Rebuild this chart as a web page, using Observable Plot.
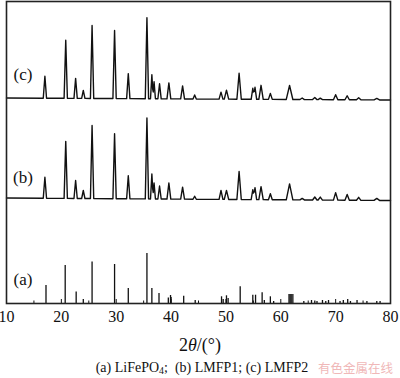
<!DOCTYPE html>
<html><head><meta charset="utf-8">
<script src="https://cdn.jsdelivr.net/npm/d3@7"></script>
<script src="https://cdn.jsdelivr.net/npm/@observablehq/plot@0.6"></script>
<style>
body{margin:0;background:#fff;width:400px;height:378px;position:relative;overflow:hidden;font-family:"Liberation Serif","Times New Roman",serif;color:#111;}
#chart{position:absolute;left:0;top:0;}
#xlabel{position:absolute;left:0;width:400px;top:335px;height:20px;line-height:20px;text-align:center;font-size:18px;}
#caption{position:absolute;left:0;width:404px;top:359px;height:18px;line-height:18px;text-align:center;font-size:14px;white-space:nowrap;}
#caption sub{font-size:0.7em;line-height:0;vertical-align:-0.25em;}
#wm{position:absolute;left:318px;top:359px;height:18px;line-height:18px;font-size:12.5px;color:#f0b8b8;font-family:"Noto Sans CJK SC",sans-serif;}
</style></head><body>
<div id="chart"></div>
<div id="xlabel">2<i>θ</i>/(°)</div>
<div id="caption">(a) LiFePO<sub>4</sub>;&nbsp;&nbsp;(b) LMFP1; (c) LMFP2</div>
<div id="wm">有色金属在线</div>
<script>
// x-axis tick labels and minor tick positions (2θ, degrees)
const xTicks = [10, 20, 30, 40, 50, 60, 70, 80];
const minorTicks = [15, 20, 25, 30, 35, 40, 45, 50, 55, 60, 65, 70, 75];

// Measured patterns (b) LMFP1 and (c) LMFP2: peak positions, peak widths, intensities (a.u.)
const peakPos   = [17.0, 20.8, 22.6, 24.0, 25.6, 29.7, 32.2, 35.6, 36.5, 36.9, 37.9, 39.6, 42.1, 44.3, 49.1, 50.1, 52.4, 54.9, 55.3, 56.4, 58.1, 61.6, 63.9, 66.2, 67.2, 70.0, 72.1, 74.2, 77.5];
const peakWidth = [0.3, 0.3, 0.3, 0.3, 0.3, 0.3, 0.3, 0.3, 0.25, 0.25, 0.3, 0.35, 0.35, 0.3, 0.35, 0.4, 0.4, 0.3, 0.3, 0.4, 0.35, 0.6, 0.4, 0.4, 0.4, 0.4, 0.4, 0.4, 0.5];
const intensityC = [22, 58, 20, 8, 73, 68, 25, 81, 24, 17, 15, 16, 13, 4, 7, 9, 26, 11, 12, 14, 6, 14, 1.5, 2, 1.5, 5, 4, 2, 1.5];
const intensityB = [21, 57, 18, 8, 73, 65, 23, 81, 25, 16, 13, 16, 12, 3, 9, 9, 28, 10, 12, 13, 6, 16, 1.5, 3, 3, 7.5, 5.7, 3, 2];
// stacking offsets (baseline at 10° and 80°)
const baselineB = [105.5, 103];
const baselineC = [205.5, 203.5];

// (a) LiFePO4 standard pattern: line positions and relative intensities
const stdPos = [17.2, 20.7, 22.7, 24.0, 25.6, 29.7, 32.2, 35.6, 36.5, 37.8, 39.5, 39.9, 40.0, 42.3, 44.4, 49.2, 49.5, 50.1, 50.4, 52.6, 54.9, 55.4, 56.6, 57.0, 58.1, 58.7, 61.5, 61.7, 61.9, 62.2, 64.2, 65.6, 66.2, 66.6, 67.6, 68.2, 68.7, 70.8, 71.4, 72.2, 72.7, 73.9, 75.7, 77.5, 78.1];
const stdInt = [18, 38, 11.6, 4, 41.6, 39, 15, 50, 15, 10, 5.6, 8, 6, 7.3, 3, 6.7, 4, 7.7, 5, 16.7, 8.3, 8.3, 10.7, 3, 6.7, 2, 9, 9, 9, 9, 2, 3, 2.5, 2, 3, 2, 3, 2, 3, 4, 2, 3, 2, 2, 2];

// pattern labels
const sampleLabels = ["(a)", "(b)", "(c)"];
const labelPos = [13, 13, 13];
const labelLevel = [24, 126, 229];

function profile(heights, base) {
  const xs = new Set([10, 80]);
  peakPos.forEach((p, i) => { xs.add(p - peakWidth[i]); xs.add(p); xs.add(p + peakWidth[i]); });
  const sorted = [...xs].filter(x => x >= 10 && x <= 80).sort((a, b) => a - b);
  return sorted.map(x => {
    let y = base[0] + (base[1] - base[0]) * (x - 10) / 70;
    peakPos.forEach((p, i) => {
      const d = Math.abs(x - p);
      if (d < peakWidth[i]) y += heights[i] * (1 - d / peakWidth[i]);
    });
    return {x, y};
  });
}

const stdData = stdPos.map((x, i) => ({x, h: stdInt[i]}));
const labelData = sampleLabels.map((t, i) => ({t, x: labelPos[i], y: labelLevel[i]}));

const chart = Plot.plot({
  width: 400, height: 330,
  marginLeft: 6, marginRight: 10, marginTop: 1, marginBottom: 27,
  x: {domain: [10, 80], ticks: xTicks, tickSize: 0, tickPadding: 7, label: null},
  y: {domain: [0, 302], axis: null},
  style: {fontFamily: "'Liberation Serif', 'Times New Roman', serif", fontSize: "16px", color: "#111", background: "white"},
  marks: [
    Plot.ruleX(stdData, {x: "x", y1: 0, y2: "h", stroke: "#111", strokeWidth: 1.3}),
    Plot.ruleX(minorTicks, {x: d => d, y1: 0, y2: d => d % 10 === 0 ? 4 : 2.5, stroke: "#111", strokeWidth: 1}),
    Plot.line(profile(intensityB, baselineB), {x: "x", y: "y", stroke: "#111", strokeWidth: 1.4}),
    Plot.line(profile(intensityC, baselineC), {x: "x", y: "y", stroke: "#111", strokeWidth: 1.4}),
    Plot.text(labelData, {x: "x", y: "y", text: "t", fontSize: 17, fill: "#111"}),
    Plot.frame({stroke: "#222", strokeWidth: 1.6})
  ]
});
document.getElementById("chart").appendChild(chart);
</script>
</body></html>
